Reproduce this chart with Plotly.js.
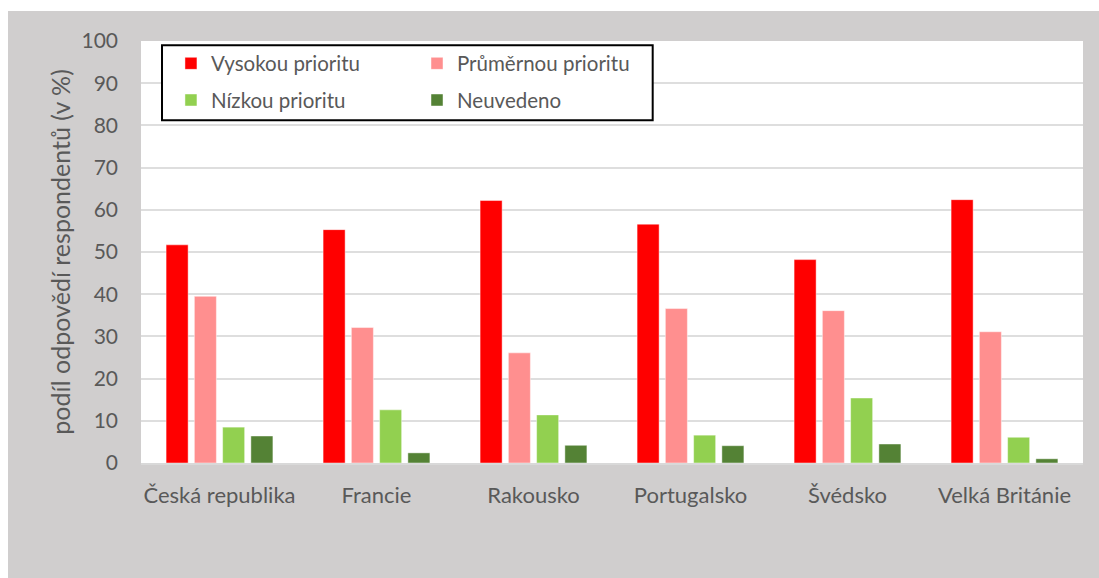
<!DOCTYPE html>
<html>
<head>
<meta charset="utf-8">
<script src="https://cdn.plot.ly/plotly-3.0.1.min.js"></script>
<style>
  html, body { margin: 0; padding: 0; background: #ffffff; width: 1099px; height: 578px; overflow: hidden; }
  #chart { position: absolute; left: 8px; top: 11px; width: 1091px; height: 567px; }
</style>
</head>
<body>
<div id="chart"></div>
<script>
// Data
const countries = ["Česká republika", "Francie", "Rakousko", "Portugalsko", "Švédsko", "Velká Británie"];
const seriesNames = ["Vysokou prioritu", "Průměrnou prioritu", "Nízkou prioritu", "Neuvedeno"];
const vysokou    = [51.7, 55.3, 62.2, 56.6, 48.2, 62.4];
const prumernou  = [39.5, 32.1, 26.1, 36.6, 36.1, 31.1];
const nizkou     = [8.5, 12.6, 11.4, 6.6, 15.4, 6.1];
const neuvedeno  = [6.4, 2.4, 4.2, 4.1, 4.5, 1.0];
const yTickVals  = [0, 10, 20, 30, 40, 50, 60, 70, 80, 90, 100];
const yTitle = "podíl odpovědí respondentů (v %)";

const colors = ["#FF0000", "#FF8F8F", "#92D050", "#548235"];
const values = [vysokou, prumernou, nizkou, neuvedeno];
const legendIds = ["legend", "legend2", "legend", "legend2"];

const FONT = "Lato, 'Open Sans', sans-serif";
const TXT = "#595959";

const traces = values.map((v, i) => ({
  type: "bar",
  name: seriesNames[i],
  x: countries,
  y: v,
  legend: legendIds[i],
  legendgroup: "g" + i,
  marker: { color: colors[i], line: { color: "rgba(255,255,255,0.45)", width: 1 } },
  hoverinfo: "x+y+name"
}));

const legendCommon = {
  orientation: "v",
  bgcolor: "rgba(0,0,0,0)",
  borderwidth: 0,
  font: { family: FONT, size: 20.5, color: TXT },
  xanchor: "left",
  yanchor: "top",
  traceorder: "grouped",
  tracegroupgap: 7,
  itemwidth: 30
};

const layout = {
  width: 1091,
  height: 567,
  margin: { l: 133, r: 16, t: 30, b: 115 },
  paper_bgcolor: "#D0CECE",
  plot_bgcolor: "#FFFFFF",
  barmode: "group",
  bargap: 0.28,
  bargroupgap: 0.22,
  font: { family: FONT, size: 20.5, color: TXT },
  showlegend: true,
  legend: Object.assign({}, legendCommon, { x: 0.0318, y: 0.994 }),
  legend2: Object.assign({}, legendCommon, { x: 0.293, y: 0.994 }),
  xaxis: {
    type: "category",
    showgrid: false,
    showline: true,
    linecolor: "#D9D9D9",
    linewidth: 2,
    ticks: "",
    ticklabelstandoff: 12,
    tickfont: { family: FONT, size: 22, color: TXT },
    fixedrange: true
  },
  yaxis: {
    range: [0, 100],
    tickvals: yTickVals,
    showgrid: true,
    gridcolor: "#DEDEDE",
    gridwidth: 2,
    zeroline: false,
    showline: false,
    ticks: "",
    ticklabelstandoff: 22,
    tickfont: { family: FONT, size: 21, color: TXT },
    title: { text: yTitle, font: { family: FONT, size: 25, color: TXT }, standoff: 3 },
    fixedrange: true
  },
  shapes: [
    {
      type: "rect", xref: "paper", yref: "paper",
      x0: 0.0223, x1: 0.5432, y0: 0.8121, y1: 0.9898,
      fillcolor: "#FFFFFF",
      line: { color: "#000000", width: 2 },
      layer: "above"
    }
  ]
};

Plotly.newPlot("chart", traces, layout, { displayModeBar: false, staticPlot: true });
</script>
</body>
</html>
